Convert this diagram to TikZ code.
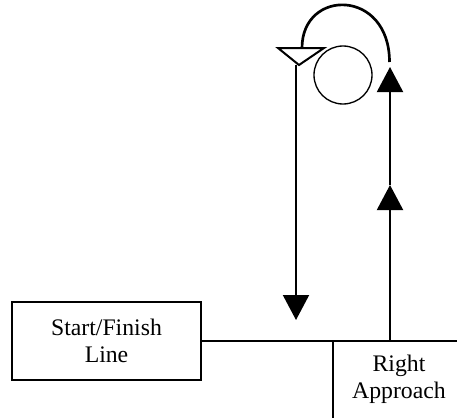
\documentclass[tikz,border=0pt]{standalone}
\usepackage{fontspec}
\setmainfont{Liberation Serif}
\usetikzlibrary{arrows.meta}

\tikzset{
  track/.style={black, line width=1.5pt},
  lane/.style={black, line width=1pt},
  flag/.style={-{Triangle[length=18.75pt,width=19.5pt]}},
  signbox/.style={draw, line width=1pt, align=center, minimum width=141.75pt, minimum height=58.5pt, inner sep=0pt},
  signtext/.style={align=center, inner sep=0pt}
}

\begin{document}
\begin{tikzpicture}[x=0.75pt,y=-0.75pt]
\fontsize{17.8}{20.2}\selectfont
\useasboundingbox (0,0) rectangle (457,418);

\node[signbox] (SF) at (106.5,341) {Start/Finish\\Line};
\node[signtext] (RA) at (399,379) {Right\\Approach};

\coordinate (E) at (457,341);
\coordinate (Jtop) at (333,341);
\coordinate (Jbot) at (333,418);
\draw[lane] (SF.east) -- (E);
\draw[lane] (Jtop) -- (Jbot);

% way up on the right
\coordinate (U0) at (390,341);
\coordinate (U1) at (390,185);
\coordinate (U2) at (390,67);
\draw[track, flag] (U0) -- (U1);
\draw[track, flag] (U1) -- (U2);

% turn over the top
\coordinate (T0) at (389.5,62);
\coordinate (T1) at (302,48);
\draw[line width=2pt] (T0) .. controls (389.5,-11.7) and (302,-11.7) .. (T1);

\draw[lane] (343,75) circle (29);

% way down on the left
\coordinate (D0) at (296,65);
\coordinate (D1) at (296,320);
\draw[track, flag] (D0) -- (D1);
\draw[track, fill=white] (278,48) -- (324,48) -- (299,65) -- cycle;

\end{tikzpicture}
\end{document}
